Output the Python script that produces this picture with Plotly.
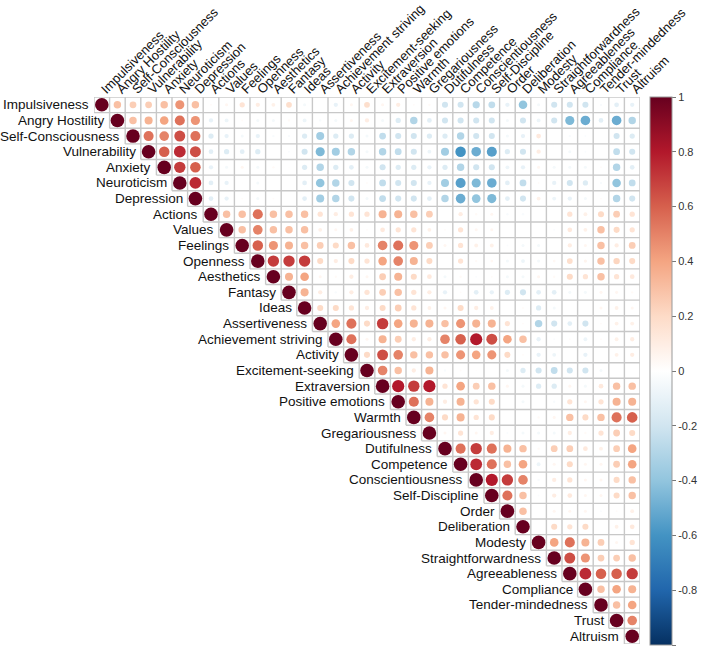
import plotly.graph_objects as go

traits = [
    'Impulsiveness', 'Angry Hostility', 'Self-Consciousness', 'Vulnerability', 'Anxiety',
    'Neuroticism', 'Depression', 'Actions', 'Values', 'Feelings', 'Openness', 'Aesthetics',
    'Fantasy', 'Ideas', 'Assertiveness', 'Achievement striving', 'Activity',
    'Excitement-seeking', 'Extraversion', 'Positive emotions', 'Warmth', 'Gregariousness',
    'Dutifulness', 'Competence', 'Conscientiousness', 'Self-Discipline', 'Order',
    'Deliberation', 'Modesty', 'Straightforwardness', 'Agreeableness', 'Compliance',
    'Tender-mindedness', 'Trust', 'Altruism',
]

# upper triangle, row i holds r(i, j) for j = i+1 .. end
upper = [
    [0.3, 0.25, 0.25, 0.3, 0.45, 0.3, 0.02, 0.05, 0.15, 0.1, 0.08, 0.18, -0.05, 0, -0.1, 0.05, 0.18,
     0.05, 0.1, 0.02, 0.03, -0.2, -0.2, -0.28, -0.25, -0.1, -0.4, -0.05, -0.2, -0.2, -0.2, -0.03, -0.12, -0.1],
    [0.3, 0.35, 0.4, 0.55, 0.45, -0.1, -0.08, 0.02, -0.05, -0.05, 0.03, -0.08, -0.03, -0.05, 0.05, 0.1,
     -0.05, -0.15, -0.3, -0.12, -0.2, -0.2, -0.2, -0.2, -0.05, -0.2, -0.08, -0.2, -0.45, -0.5, -0.12, -0.5, -0.3],
    [0.55, 0.5, 0.65, 0.55, -0.15, -0.1, -0.05, -0.1, -0.03, -0.03, -0.15, -0.35, -0.15, -0.15, -0.05,
     -0.25, -0.2, -0.2, -0.15, -0.15, -0.3, -0.2, -0.2, -0.05, -0.1, 0.12, 0, -0.03, -0.02, 0, -0.2, -0.15],
    [0.6, 0.75, 0.65, -0.12, -0.15, -0.12, -0.15, 0, -0.02, -0.2, -0.45, -0.35, -0.3, -0.05, -0.3, -0.25,
     -0.2, -0.08, -0.35, -0.6, -0.5, -0.55, -0.15, -0.2, 0.1, 0, -0.05, -0.02, 0, -0.25, -0.2],
    [0.7, 0.6, -0.1, -0.05, 0.05, -0.05, 0.03, 0.01, -0.15, -0.3, -0.15, -0.12, -0.05, -0.2, -0.15,
     -0.15, -0.1, -0.15, -0.3, -0.2, -0.2, -0.08, -0.1, 0.05, -0.05, -0.05, -0.05, 0.02, -0.3, -0.12],
    [0.75, -0.12, -0.1, 0.01, -0.05, 0, 0, -0.12, -0.4, -0.3, -0.2, 0.02, -0.25, -0.2, -0.2, -0.1,
     -0.35, -0.55, -0.45, -0.5, -0.12, -0.25, 0.02, -0.1, -0.2, -0.15, -0.03, -0.4, -0.25],
    [-0.12, -0.1, 0.02, -0.05, 0.02, 0, -0.12, -0.35, -0.3, -0.2, -0.05, -0.25, -0.2, -0.2, -0.12,
     -0.3, -0.5, -0.4, -0.45, -0.12, -0.2, 0.08, -0.08, -0.1, -0.05, 0.02, -0.3, -0.2],
    [0.3, 0.3, 0.55, 0.3, 0.3, 0.3, 0.15, 0.1, 0.15, 0.15, 0.35, 0.35, 0.3, 0.25, 0, 0.1, 0.03, 0.05,
     -0.03, -0.03, 0, 0, 0.15, 0.08, 0.2, 0.25, 0.15],
    [0.3, 0.5, 0.3, 0.3, 0.3, 0.08, 0.05, 0.08, 0.02, 0.12, 0.15, 0.15, 0.08, 0.02, 0.15, 0.05, 0.05,
     0, 0, 0, -0.02, 0.12, 0.08, 0.3, 0.2, 0.15],
    [0.6, 0.45, 0.35, 0.3, 0.25, 0.2, 0.3, 0.12, 0.5, 0.55, 0.45, 0.25, 0.05, 0.15, 0.08, 0.08, -0.02,
     -0.05, -0.05, 0, 0.1, 0.05, 0.3, 0.1, 0.25],
    [0.7, 0.7, 0.7, 0.2, 0.1, 0.2, 0.15, 0.4, 0.5, 0.35, 0.2, 0, 0.15, 0.03, 0.04, -0.05, -0.08,
     -0.05, 0.04, 0.18, 0.06, 0.3, 0.22, 0.2],
    [0.35, 0.4, 0.05, 0.03, 0.1, 0.05, 0.25, 0.35, 0.2, 0.12, -0.05, 0.03, -0.02, 0.02, -0.05, -0.05,
     0.05, 0.03, 0.2, 0.15, 0.3, 0.15, 0.12],
    [0.35, 0.1, -0.03, 0.1, 0.15, 0.25, 0.3, 0.15, 0.1, -0.1, 0.02, -0.12, -0.1, -0.15, -0.2, -0.12,
     -0.12, -0.05, -0.05, 0.05, 0.05, 0.03],
    [0.2, 0.2, 0.15, 0.1, 0.2, 0.25, 0.15, 0.08, 0.05, 0.2, 0.1, 0.08, 0, 0.02, -0.15, -0.05, 0, 0,
     0.05, 0.08, 0.05],
    [0.4, 0.55, 0.2, 0.7, 0.4, 0.35, 0.35, 0.3, 0.45, 0.35, 0.35, 0.15, 0.02, -0.3, -0.2, -0.12, -0.2,
     0.02, 0.08, 0.08],
    [0.55, 0.05, 0.35, 0.25, 0.1, 0.1, 0.5, 0.6, 0.8, 0.65, 0.4, 0.3, -0.1, -0.02, 0.02, -0.08, 0.02,
     0.08, 0.1],
    [0.2, 0.65, 0.5, 0.3, 0.3, 0.3, 0.45, 0.4, 0.45, 0.2, 0.02, -0.1, -0.08, 0, -0.1, 0, 0.08, 0.1],
    [0.5, 0.3, 0.1, 0.35, -0.03, 0.02, 0.01, 0, -0.05, -0.15, -0.2, -0.25, -0.2, -0.2, -0.05, 0, 0],
    [0.8, 0.7, 0.8, 0.15, 0.4, 0.25, 0.3, 0.05, -0.05, -0.15, -0.15, 0.05, -0.05, 0.12, 0.3, 0.3],
    [0.55, 0.35, 0.1, 0.35, 0.15, 0.2, 0, -0.05, 0, -0.03, 0.15, 0.05, 0.15, 0.35, 0.35],
    [0.5, 0.2, 0.35, 0.15, 0.2, 0, 0, 0.03, 0.05, 0.3, 0.2, 0.3, 0.55, 0.6],
    [0.05, 0.15, 0.05, 0.1, -0.02, -0.05, -0.05, -0.05, 0.1, 0.03, 0.15, 0.25, 0.2],
    [0.55, 0.7, 0.55, 0.35, 0.3, 0.03, 0.25, 0.25, 0.12, 0.08, 0.25, 0.4],
    [0.75, 0.55, 0.3, 0.4, -0.08, 0.05, 0.2, 0.05, 0.05, 0.25, 0.4],
    [0.8, 0.7, 0.5, -0.03, 0.1, 0.15, 0.05, 0.05, 0.2, 0.3],
    [0.55, 0.3, -0.02, 0.1, 0.12, 0.05, 0.05, 0.2, 0.3],
    [0.3, 0, 0.05, 0.05, 0.05, -0.02, 0.02, 0.08],
    [0, 0.2, 0.15, 0.2, 0, 0.08, 0.12],
    [0.4, 0.55, 0.35, 0.25, 0.05, 0.15],
    [0.65, 0.45, 0.25, 0.25, 0.3],
    [0.75, 0.6, 0.6, 0.7],
    [0.3, 0.4, 0.35],
    [0.3, 0.4],
    [0.5],
    [],
]

colorbar_ticks = [1, 0.8, 0.6, 0.4, 0.2, 0, -0.2, -0.4, -0.6, -0.8, -1]

rdbu = ['#053061', '#2166AC', '#4393C3', '#92C5DE', '#D1E5F0', '#FFFFFF',
        '#FDDBC7', '#F4A582', '#D6604D', '#B2182B', '#67001F']
colorscale = [[k / (len(rdbu) - 1), c] for k, c in enumerate(rdbu)]

n = len(traits)
MAX_D = 13.6

xs, ys, vals = [], [], []
for i in range(n):
    row = [1.0] + upper[i]
    for k, v in enumerate(row):
        xs.append(i + k)
        ys.append(i)
        vals.append(v)

# grid lines of the upper triangle
gx, gy = [], []
for k in range(n + 1):
    gx += [max(k - 1, 0) - 0.5, n - 0.5, None]
    gy += [k - 0.5, k - 0.5, None]
    gx += [k - 0.5, k - 0.5, None]
    gy += [-0.5, min(k, n - 1) + 0.5, None]

fig = go.Figure()
fig.add_trace(go.Scatter(x=gx, y=gy, mode='lines', line=dict(color='#c8c8c8', width=1.4),
                         hoverinfo='skip', showlegend=False))
fig.add_trace(go.Scatter(
    x=xs, y=ys, mode='markers', showlegend=False,
    text=[f'{traits[y]} / {traits[x]}: {v:.2f}' for x, y, v in zip(xs, ys, vals)],
    hoverinfo='text',
    marker=dict(
        size=[MAX_D * abs(v) ** 0.5 for v in vals], sizemode='diameter', opacity=1,
        color=vals, cmin=-1, cmax=1, colorscale=colorscale, line=dict(width=0),
        showscale=True,
        colorbar=dict(
            x=1.018, xanchor='left', xpad=0, y=1, yanchor='top', ypad=0,
            lenmode='pixels', len=548, thickness=22,
            outlinecolor='#999', outlinewidth=1,
            tickvals=colorbar_ticks, ticktext=[f'{t:g}' for t in colorbar_ticks],
            ticks='outside', ticklen=4, tickcolor='#777',
            tickfont=dict(size=11, color='#333'),
        ),
    ),
))

for i, name in enumerate(traits):
    fig.add_annotation(x=i - 0.5, y=i, text=name, showarrow=False, xanchor='right',
                       xshift=-3, font=dict(size=13.5, color='#111'))

fig.update_xaxes(range=[-0.5, n - 0.5], side='top', tickmode='array',
                 tickvals=list(range(n)), ticktext=traits, tickangle=-45,
                 tickfont=dict(size=13, color='#111'), ticklabelstandoff=-3,
                 showgrid=False, zeroline=False, showline=False, ticks='', automargin=False)
fig.update_yaxes(range=[n - 0.5, -0.5], showticklabels=False, showgrid=False,
                 zeroline=False, showline=False, automargin=False)
fig.update_layout(
    width=706, height=649,
    margin=dict(l=94, r=66, t=97, b=5),
    plot_bgcolor='white', paper_bgcolor='white',
    font=dict(family='Liberation Sans, Arial, sans-serif'),
)

# drop the page's default body margin so the figure fills the window
fig.write_html('out.html', config={'displayModeBar': False},
               post_script="document.body.style.margin = '0px';")
